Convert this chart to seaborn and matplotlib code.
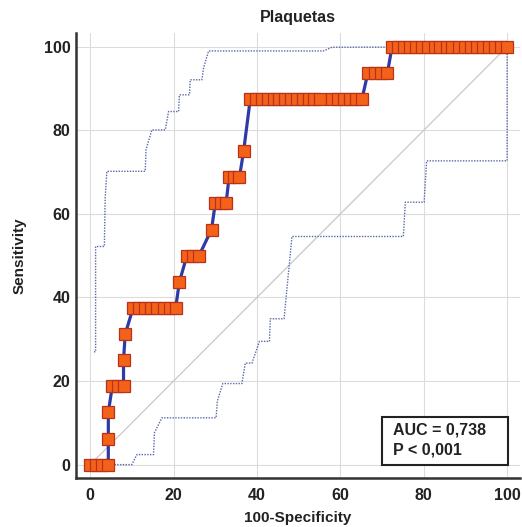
import matplotlib
matplotlib.use("Agg")
import matplotlib.pyplot as plt
import seaborn as sns
import pandas as pd
from matplotlib.ticker import MultipleLocator
from matplotlib.patches import Rectangle

# ---- data ----
roc_sens = [0, 6.25, 12.5, 18.75, 25, 31.25, 37.5, 43.75, 50, 56.25, 62.5,
            68.75, 75, 87.5, 93.75, 100]
roc_fpr = [
    [0, 1.45, 2.9, 4.35],
    [4.35],
    [4.35],
    [5.3, 6.6, 8.0],
    [8.0],
    [8.4],
    [10.3, 11.7, 13.2, 14.6, 16.1, 17.6, 19.1, 20.5],
    [21.4],
    [23.2, 24.6, 26.1],
    [29.1],
    [30.0, 31.3, 32.6],
    [33.3, 34.6, 35.8],
    [36.8],
    [38.4, 39.8, 41.2, 42.6, 44.0, 45.4, 46.8, 48.2, 49.6, 51.0, 52.4, 53.8,
     55.2, 58.0, 59.4, 60.9, 62.3, 63.8, 65.2],
    [66.6, 68.2, 69.8, 71.3],
    [72.4, 73.9, 75.3, 76.8, 78.2, 79.7, 81.1, 82.6, 84.0, 85.5, 86.9, 88.4,
     89.8, 91.3, 92.7, 94.2, 95.6, 97.1, 98.5, 100],
]

upper_x = [0.9, 1.3, 1.3, 3.4, 3.6, 4.0, 13.2, 13.4, 14.8, 18.0, 18.8, 21.2,
           21.4, 23.8, 24.0, 26.8, 27.2, 28.4, 55.9, 58.0, 100]
upper_y = [27.0, 27.0, 52.2, 52.2, 64.0, 70.2, 70.2, 75.4, 80.1, 80.1, 84.5,
           84.5, 88.5, 88.5, 92.1, 92.1, 95.0, 99.0, 99.0, 99.9, 100]

lower_x = [4.5, 10.0, 11.2, 15.2, 15.4, 17.2, 30.2, 30.5, 31.8, 36.4, 37.2,
           38.8, 40.6, 43.0, 43.2, 46.5, 48.4, 75.1, 75.6, 80.1, 80.7, 100, 100]
lower_y = [0, 0, 2.4, 2.4, 7.6, 11.2, 11.2, 15.2, 19.4, 19.4, 24.3, 24.3,
           29.5, 29.5, 34.9, 34.9, 54.6, 54.6, 62.8, 62.8, 72.7, 72.7, 100]

diag = [0, 100]
ticks = [0, 20, 40, 60, 80, 100]
title = "Plaquetas"
xlabel = "100-Specificity"
ylabel = "Sensitivity"
auc_lines = ["AUC = 0,738", "P < 0,001"]

# ---- build tables ----
rows = []
for s, xs in zip(roc_sens, roc_fpr):
    for x in xs:
        rows.append((x, s))
roc = pd.DataFrame(rows, columns=["fpr", "tpr"])
up = pd.DataFrame({"x": upper_x, "y": upper_y})
lo = pd.DataFrame({"x": lower_x, "y": lower_y})
dg = pd.DataFrame({"x": diag, "y": diag})

sns.set_theme(style="white")
plt.rcParams["font.family"] = ["Liberation Sans", "DejaVu Sans"]
plt.rcParams["font.weight"] = "bold"

fig = plt.figure(figsize=(5.22, 5.27), dpi=100)
ax = fig.add_axes([0.1456, 0.0930, 0.8506, 0.8444])

ax.grid(True, which="major", color="#dcdcdc", lw=0.8)
ax.set_axisbelow(True)

sns.lineplot(data=dg, x="x", y="y", ax=ax, color="#c8c8c8", lw=0.9,
             sort=False, estimator=None)
sns.lineplot(data=up, x="x", y="y", ax=ax, color="#5a68a8", lw=1.0,
             linestyle=(0, (1, 1)), sort=False, estimator=None)
sns.lineplot(data=lo, x="x", y="y", ax=ax, color="#5a68a8", lw=1.0,
             linestyle=(0, (1, 1)), sort=False, estimator=None)
sns.lineplot(data=roc, x="fpr", y="tpr", ax=ax, color="#2e3ba6", lw=2.3,
             sort=False, estimator=None, marker="s", markersize=8.8,
             markerfacecolor="#f4621a", markeredgecolor="#b8321a",
             markeredgewidth=0.9)

ax.set_xlim(-3.4, 103.1)
ax.set_ylim(-3.2, 103.3)
ax.xaxis.set_minor_locator(MultipleLocator(5))
ax.yaxis.set_minor_locator(MultipleLocator(5))
ax.set_xticks(ticks)
ax.set_yticks(ticks)

for side in ["top", "right"]:
    ax.spines[side].set_visible(False)
for side in ["left", "bottom"]:
    ax.spines[side].set_color("#333333")
    ax.spines[side].set_linewidth(1.8)

ax.tick_params(axis="both", which="major", direction="in", length=9,
               width=1.8, color="#333333", labelsize=11.5, labelcolor="#222222")
ax.tick_params(axis="both", which="minor", direction="in", length=4.5,
               width=1.2, color="#333333")
ax.tick_params(axis="x", which="major", pad=7)
ax.tick_params(axis="y", which="major", pad=4)
for lab in ax.get_xticklabels() + ax.get_yticklabels():
    lab.set_fontweight("bold")

ax.set_title(title, fontsize=11.5, fontweight="bold", pad=8, color="#222222")
ax.set_xlabel(xlabel, fontsize=11, fontweight="bold", color="#222222", labelpad=6)
ax.set_ylabel(ylabel, fontsize=11, fontweight="bold", color="#222222", labelpad=12)

# statistics box
ax.add_patch(Rectangle((70, 0), 30.2, 11.5, facecolor="white",
                       edgecolor="#222222", lw=1.5, zorder=5))
ax.text(72.6, 8.2, auc_lines[0], fontsize=11.5, fontweight="bold",
        color="#222222", va="center", ha="left", zorder=6)
ax.text(72.6, 3.6, auc_lines[1], fontsize=11.5, fontweight="bold",
        color="#222222", va="center", ha="left", zorder=6)

fig.savefig("out.png", dpi=100)
